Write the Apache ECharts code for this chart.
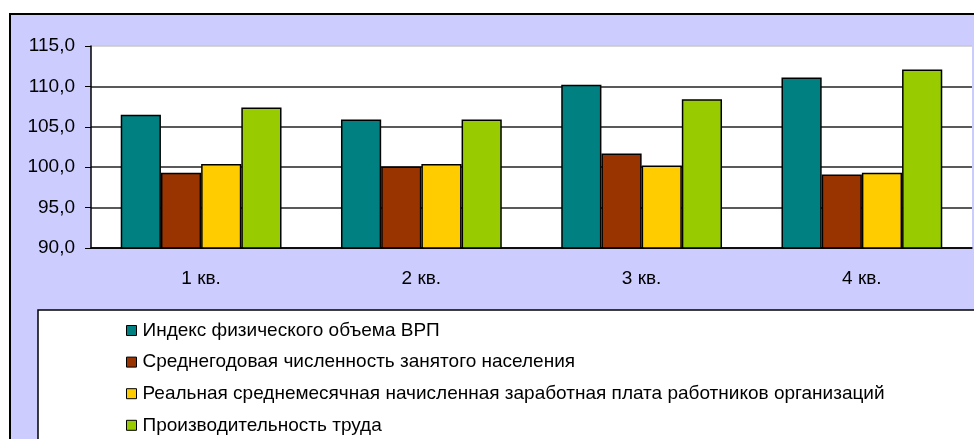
<!DOCTYPE html>
<html>
<head>
<meta charset="utf-8">
<script src="https://cdn.jsdelivr.net/npm/echarts@6/dist/echarts.min.js"></script>
<style>
  html, body { margin: 0; padding: 0; background: #fff; }
  #chart { width: 974px; height: 439px; }
</style>
</head>
<body>
<div id="chart"></div>
<script>
var categories = ["1 кв.", "2 кв.", "3 кв.", "4 кв."];
var seriesNames = [
  "Индекс физического объема ВРП",
  "Среднегодовая численность занятого населения",
  "Реальная среднемесячная начисленная заработная плата работников организаций",
  "Производительность труда"
];
var vrp = [106.5, 105.9, 110.2, 111.1];
var employed = [99.3, 100.1, 101.7, 99.1];
var wage = [100.4, 100.4, 100.2, 99.3];
var productivity = [107.4, 105.9, 108.4, 112.1];
var colors = ["#008080", "#993300", "#FFCC00", "#99CC00"];

var font = "'Liberation Sans', Arial, sans-serif";
var chart = echarts.init(document.getElementById("chart"));

function bar(name, data, color) {
  return {
    name: name,
    type: "bar",
    data: data,
    barGap: "0%",
    barCategoryGap: "27%",
    itemStyle: { color: color, borderColor: "#000", borderWidth: 1.5 },
    silent: true
  };
}

chart.setOption({
  animation: false,
  textStyle: { fontFamily: font },
  graphic: [
    // фон области диаграммы
    {
      type: "rect", z: -10, silent: true,
      shape: { x: 10, y: 14, width: 1000, height: 500 },
      style: { fill: "#CCCCFF", stroke: "#000", lineWidth: 2 }
    },
    // рамка легенды
    {
      type: "rect", z: -5, silent: true,
      shape: { x: 38, y: 310, width: 1000, height: 200 },
      style: { fill: "#fff", stroke: "#000", lineWidth: 1.5 }
    }
  ],
  grid: {
    left: 91, right: 2, top: 46, bottom: 191,
    show: true, backgroundColor: "#fff", borderWidth: 0
  },
  legend: {
    orient: "vertical",
    left: 126, top: 321,
    width: 840, height: 200,
    padding: 0,
    itemGap: 12.6,
    itemWidth: 10, itemHeight: 10,
    icon: "rect",
    itemStyle: { borderColor: "#000", borderWidth: 1 },
    textStyle: { fontFamily: font, fontSize: 19, color: "#000", padding: [0, 0, 0, 1] },
    data: seriesNames
  },
  xAxis: {
    type: "category",
    data: categories,
    axisLine: { lineStyle: { color: "#000", width: 1.5 } },
    axisTick: { length: 6, lineStyle: { color: "#000" } },
    axisLabel: { fontSize: 19, color: "#000", margin: 21, fontFamily: font }
  },
  yAxis: {
    type: "value",
    min: 90, max: 115, interval: 5,
    axisLine: { show: true, lineStyle: { color: "#000", width: 1.5 } },
    axisTick: { show: true, length: 6, lineStyle: { color: "#000" } },
    axisLabel: {
      fontSize: 19, color: "#000", margin: 16, fontFamily: font,
      formatter: function (v) { return v.toFixed(1).replace(".", ","); }
    },
    splitLine: {
      lineStyle: { color: ["#000", "#222", "#222", "#222", "#222", "#c8c8c8"], width: 1.5 }
    }
  },
  series: [
    bar(seriesNames[0], vrp, colors[0]),
    bar(seriesNames[1], employed, colors[1]),
    bar(seriesNames[2], wage, colors[2]),
    bar(seriesNames[3], productivity, colors[3])
  ]
});
</script>
</body>
</html>
